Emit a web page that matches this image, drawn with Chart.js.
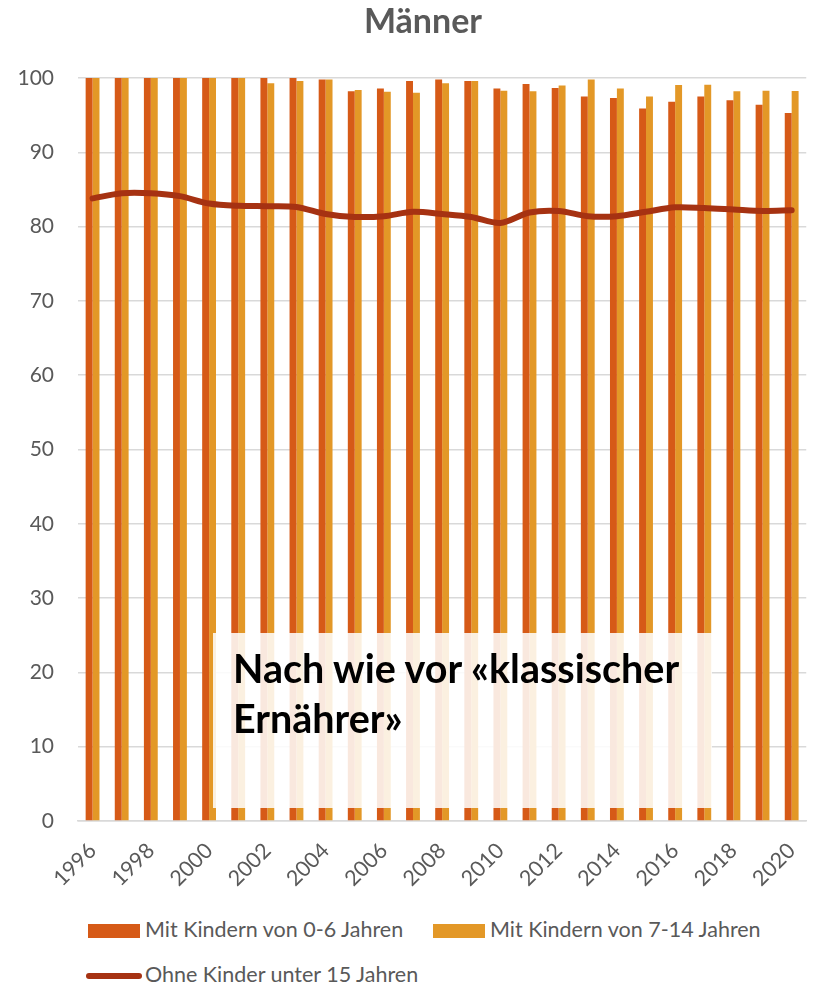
<!DOCTYPE html>
<html><head><meta charset="utf-8">
<script src="https://cdn.jsdelivr.net/npm/chart.js@4"></script>
<style>
body{margin:0;background:#fff;}
#wrap{position:relative;width:819px;height:985px;overflow:hidden;font-family:Lato,sans-serif;}
#c{position:absolute;left:0;top:0;}
#title{position:absolute;left:0;top:0px;width:846px;text-align:center;font-weight:700;font-size:34px;line-height:1.2;color:#595959;}
#note{position:absolute;left:213px;top:633px;width:499px;height:175px;background:rgba(255,255,255,0.86);}
.nl{position:absolute;left:20px;font-weight:700;font-size:39.5px;line-height:1.2;color:#000;white-space:nowrap;}
.lg{position:absolute;font-size:21.5px;line-height:1.2;color:#595959;white-space:nowrap;}
.box{position:absolute;}
</style></head>
<body><div id="wrap"><canvas id="c" width="819" height="900"></canvas>
<div id="title"></div>
<div id="note"><div class="nl" style="top:11.3px">Nach wie vor «klassischer</div><div class="nl" style="top:61.3px">Ernährer»</div></div>
<div id="legend"></div>
</div>
<script>
const years = ['1996','1997','1998','1999','2000','2001','2002','2003','2004','2005','2006','2007','2008','2009','2010','2011','2012','2013','2014','2015','2016','2017','2018','2019','2020'];
const kids0to6 = [100,100,100,100,100,100,100,100,99.8,98.2,98.6,99.6,99.8,99.6,98.6,99.2,98.65,97.5,97.3,95.9,96.8,97.5,97.0,96.4,95.3];
const kids7to14 = [100,100,100,100,100,100,99.3,99.6,99.8,98.4,98.15,98.0,99.3,99.6,98.3,98.2,99.0,99.8,98.6,97.5,99.05,99.1,98.2,98.3,98.25];
const noKids = [83.8,84.5,84.5,84.1,83.1,82.8,82.75,82.65,81.7,81.3,81.4,82.0,81.7,81.3,80.5,81.9,82.1,81.4,81.4,82.0,82.6,82.5,82.3,82.1,82.2];
const seriesNames = ['Mit Kindern von 0-6 Jahren','Mit Kindern von 7-14 Jahren','Ohne Kinder unter 15 Jahren'];
const colors = ['#D65A17','#E39827','#A63212'];
const titleText = 'Männer';

document.getElementById('title').textContent = titleText;
const gray = '#595959';
new Chart(document.getElementById('c'), {
  type: 'bar',
  data: {
    labels: years,
    datasets: [
      {type:'line', label: seriesNames[2], data: noKids, borderColor: colors[2], backgroundColor: colors[2], borderWidth: 6, pointRadius: 0, tension: 0.3, order: 0, borderCapStyle:'round'},
      {label: seriesNames[0], data: kids0to6, backgroundColor: colors[0], categoryPercentage: 0.475, barPercentage: 1, order: 1},
      {label: seriesNames[1], data: kids7to14, backgroundColor: colors[1], categoryPercentage: 0.475, barPercentage: 1, order: 1}
    ]
  },
  options: {
    responsive: false, animation: false,
    layout: {padding: {left: 0, right: 4, top: 78, bottom: 0}},
    plugins: {
      legend: {display: false},
      tooltip: {enabled: false},
      title: {display: false}
    },
    scales: {
      x: {
        grid: {display: false},
        border: {color: '#d9d9d9', width: 1.5},
        ticks: {color: gray, font: {family: 'Lato', size: 21.5}, autoSkip: false, maxRotation: 45, minRotation: 45, padding: 9,
          callback: (v, i) => i % 2 === 0 ? years[i] : ''},
        afterFit: s => { s.height = 79; }
      },
      y: {
        min: 0, max: 100,
        grid: {color: '#d9d9d9', lineWidth: 1.5, drawTicks: false},
        border: {display: false},
        ticks: {stepSize: 10, color: gray, font: {family: 'Lato', size: 21}, padding: 24},
        afterFit: s => { s.width = 78; }
      }
    }
  }
});

const lg = document.getElementById('legend');
const items = [
  {type:'box', x:88, y:924, w:52, h:14, c:colors[0], tx:145, ty:917, t:seriesNames[0]},
  {type:'box', x:433, y:924, w:52, h:14, c:colors[1], tx:490, ty:917, t:seriesNames[1]},
  {type:'line', x:86, y:973, w:56, h:6, c:colors[2], tx:145, ty:962, t:seriesNames[2]}
];
items.forEach(it => {
  const b = document.createElement('div');
  b.className = 'box';
  b.style.cssText = `left:${it.x}px;top:${it.y}px;width:${it.w}px;height:${it.h}px;background:${it.c};` + (it.type==='line' ? 'border-radius:3px;' : '');
  lg.appendChild(b);
  const t = document.createElement('div');
  t.className = 'lg';
  t.style.left = it.tx + 'px'; t.style.top = it.ty + 'px';
  t.textContent = it.t;
  lg.appendChild(t);
});
</script>
</body></html>
